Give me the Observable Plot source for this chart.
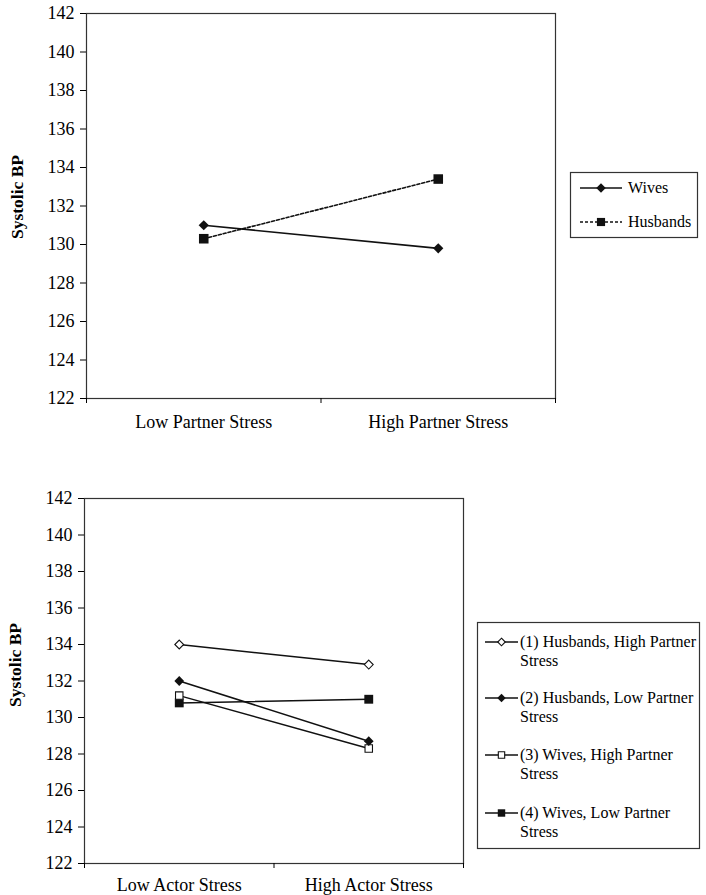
<!DOCTYPE html>
<html>
<head>
<meta charset="utf-8">
<script src="https://cdn.jsdelivr.net/npm/d3@7"></script>
<script src="https://cdn.jsdelivr.net/npm/@observablehq/plot@0.6"></script>
<style>
  html, body { margin: 0; padding: 0; background: #fff; }
  #wrap { position: relative; width: 706px; height: 895px; overflow: hidden; background: #fff; }
  #wrap > div.chart { position: absolute; left: 0; }
  #wrap svg text { font-family: 'Liberation Serif', 'Times New Roman', serif !important; font-variant: normal !important; font-variant-numeric: normal !important; }
  svg.legend { position: absolute; overflow: visible; }
</style>
</head>
<body>
<div id="wrap"></div>
<script>
// ---------- data ----------
const yTicks = [122, 124, 126, 128, 130, 132, 134, 136, 138, 140, 142];
const yTitle = "Systolic BP";

const topCategories = ["Low Partner Stress", "High Partner Stress"];
const topWives = [131.0, 129.8];
const topHusbands = [130.3, 133.4];
const topLegendLabels = ["Wives", "Husbands"];

const bottomCategories = ["Low Actor Stress", "High Actor Stress"];
const husbandsHighPartner = [134.0, 132.9];
const husbandsLowPartner = [132.0, 128.7];
const wivesHighPartner = [131.2, 128.3];
const wivesLowPartner = [130.8, 131.0];
const bottomLegendLabels = [
  ["(1) Husbands, High Partner", "Stress"],
  ["(2) Husbands, Low Partner", "Stress"],
  ["(3) Wives, High Partner", "Stress"],
  ["(4) Wives, Low Partner", "Stress"]
];

// ---------- helpers ----------
const INK = "#111";
const rows = (vals) => vals.map((v, i) => ({x: i + 0.5, y: v}));
const baseStyle = {fontFamily: "'Liberation Serif', 'Times New Roman', serif", fontSize: "18px", color: "#000", background: "white", overflow: "visible"};

function axes(cats, padding, titleShift) {
  return [
    Plot.frame({stroke: "#333", strokeWidth: 1.2}),
    Plot.axisY({ticks: yTicks, tickSize: 6, tickPadding: 6, fontVariant: "normal", label: null}),
    Plot.axisX({ticks: [0, 1, 2], tickSize: 5, tickFormat: () => "", label: null}),
    Plot.axisX({ticks: [0.5, 1.5], tickSize: 0, tickPadding: padding, tickFormat: (d) => cats[Math.round(d - 0.5)], label: null}),
    Plot.text([yTitle], {text: (d) => d, frameAnchor: "left", rotate: -90, dx: -69, dy: titleShift, textAnchor: "middle", lineAnchor: "middle", fontWeight: "bold", fontSize: 17.5, fill: "#000"})
  ];
}

const wrap = document.getElementById("wrap");

// ---------- top chart ----------
const top1 = Plot.plot({
  width: 706, height: 440,
  marginLeft: 86, marginRight: 151, marginTop: 13, marginBottom: 42,
  x: {domain: [0, 2]},
  y: {domain: [122, 142]},
  style: baseStyle,
  marks: [
    ...axes(topCategories, 17, -9),
    Plot.line(rows(topWives), {x: "x", y: "y", stroke: INK, strokeWidth: 1.6}),
    Plot.line(rows(topHusbands), {x: "x", y: "y", stroke: INK, strokeWidth: 1.6, strokeDasharray: "3,2"}),
    Plot.dot(rows(topWives), {x: "x", y: "y", symbol: "diamond2", r: 4.6, fill: INK, stroke: "none"}),
    Plot.dot(rows(topHusbands), {x: "x", y: "y", symbol: "square", r: 5.4, fill: INK, stroke: "none"})
  ]
});
const d1 = document.createElement("div");
d1.className = "chart"; d1.style.top = "0px";
d1.appendChild(top1);
wrap.appendChild(d1);

// ---------- bottom chart ----------
const bottomTop = 460;
const bot = Plot.plot({
  width: 706, height: 435,
  marginLeft: 84, marginRight: 243, marginTop: 38, marginBottom: 32,
  x: {domain: [0, 2]},
  y: {domain: [122, 142]},
  style: baseStyle,
  marks: [
    ...axes(bottomCategories, 15, -16),
    Plot.line(rows(husbandsHighPartner), {x: "x", y: "y", stroke: INK, strokeWidth: 1.5}),
    Plot.line(rows(husbandsLowPartner), {x: "x", y: "y", stroke: INK, strokeWidth: 1.5}),
    Plot.line(rows(wivesHighPartner), {x: "x", y: "y", stroke: INK, strokeWidth: 1.5}),
    Plot.line(rows(wivesLowPartner), {x: "x", y: "y", stroke: INK, strokeWidth: 1.5}),
    Plot.dot(rows(wivesLowPartner), {x: "x", y: "y", symbol: "square", r: 5.0, fill: INK, stroke: "none"}),
    Plot.dot(rows(wivesHighPartner), {x: "x", y: "y", symbol: "square", r: 4.2, fill: "white", stroke: INK, strokeWidth: 1.1}),
    Plot.dot(rows(husbandsLowPartner), {x: "x", y: "y", symbol: "diamond2", r: 4.4, fill: INK, stroke: "none"}),
    Plot.dot(rows(husbandsHighPartner), {x: "x", y: "y", symbol: "diamond2", r: 4.0, fill: "white", stroke: INK, strokeWidth: 1.1})
  ]
});
const d2 = document.createElement("div");
d2.className = "chart"; d2.style.top = bottomTop + "px";
d2.appendChild(bot);
wrap.appendChild(d2);

// ---------- legends ----------
function symbolPath(kind, r) {
  const type = kind === "square" ? d3.symbolSquare : d3.symbolDiamond2;
  return d3.symbol().type(type).size(Math.PI * r * r)();
}
function legend(box, entries) {
  const svg = d3.create("svg").attr("class", "legend")
    .attr("width", box.w).attr("height", box.h)
    .style("left", box.x + "px").style("top", box.y + "px");
  svg.append("rect").attr("x", 0.5).attr("y", 0.5).attr("width", box.w - 1).attr("height", box.h - 1)
    .attr("fill", "white").attr("stroke", "#333").attr("stroke-width", 1.2);
  for (const e of entries) {
    const cy = e.y - box.y;
    svg.append("line").attr("x1", e.x1 - box.x).attr("x2", e.x2 - box.x).attr("y1", cy).attr("y2", cy)
      .attr("stroke", INK).attr("stroke-width", 1.5).attr("stroke-dasharray", e.dash || null);
    svg.append("path").attr("d", symbolPath(e.symbol, e.r))
      .attr("transform", `translate(${(e.x1 + e.x2) / 2 - box.x},${cy})`)
      .attr("fill", e.fill).attr("stroke", e.fill === "white" ? INK : "none").attr("stroke-width", 1.1);
    e.lines.forEach((t, i) => {
      svg.append("text").attr("x", e.tx - box.x).attr("y", cy + i * e.lh).attr("dy", "0.32em")
        .attr("font-size", 16).attr("fill", "#000").text(t);
    });
  }
  wrap.appendChild(svg.node());
}

legend({x: 570, y: 172, w: 128, h: 66}, [
  {y: 188, x1: 580, x2: 622, tx: 628, lh: 0, symbol: "diamond2", r: 4.3, fill: INK, lines: [topLegendLabels[0]]},
  {y: 222, x1: 580, x2: 622, tx: 628, lh: 0, symbol: "square", r: 4.6, fill: INK, dash: "3,2", lines: [topLegendLabels[1]]}
]);

const bSym = [
  {symbol: "diamond2", fill: "white", r: 3.4},
  {symbol: "diamond2", fill: INK, r: 3.8},
  {symbol: "square", fill: "white", r: 3.6},
  {symbol: "square", fill: INK, r: 4.2}
];
const bY = [642, 698, 755, 813];
legend({x: 477, y: 622, w: 223, h: 227}, bottomLegendLabels.map((lines, i) => ({
  y: bY[i], x1: 485, x2: 518, tx: 520, lh: 19, ...bSym[i], lines
})));
</script>
</body>
</html>
